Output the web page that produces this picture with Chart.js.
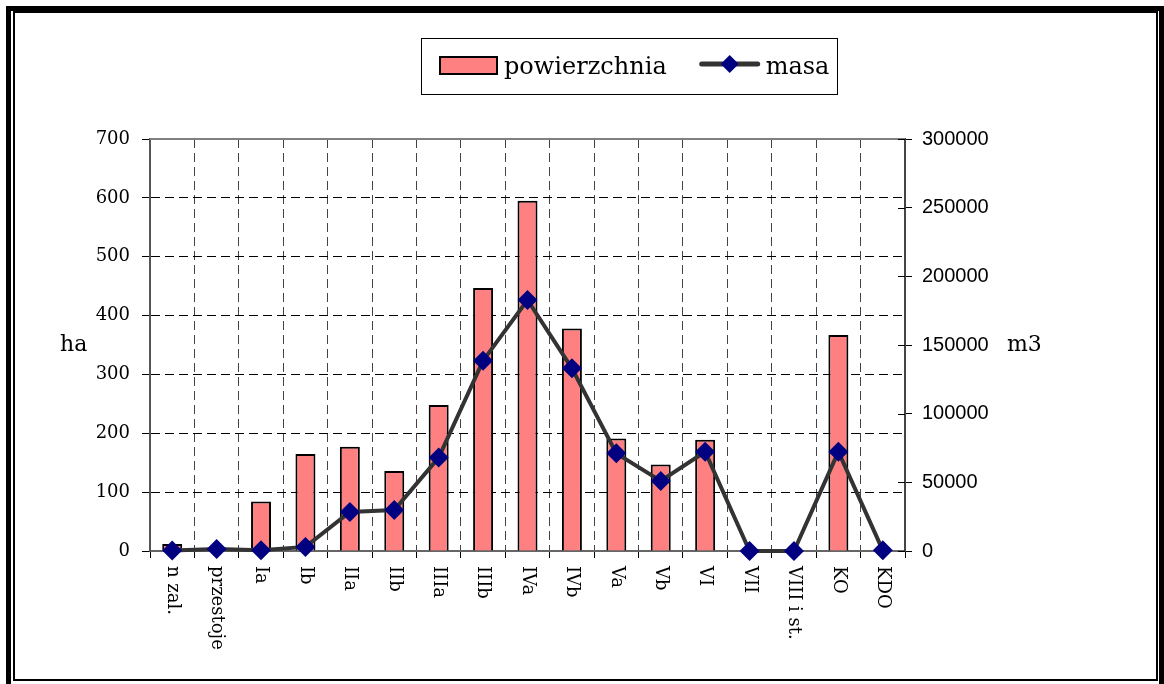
<!DOCTYPE html>
<html>
<head>
<meta charset="utf-8">
<title>powierzchnia i masa</title>
<script src="https://cdn.jsdelivr.net/npm/chart.js@4"></script>
<style>
  html, body { margin: 0; padding: 0; background: #fff; overflow: hidden; }
  #wrap { position: relative; width: 1164px; height: 684px; }
  #frameOuter { position: absolute; left: 6px; top: 6px; width: 1158px; height: 690px; border: 5px solid #000; box-sizing: border-box; pointer-events: none; }
  #frameInner { position: absolute; left: 13px; top: 11px; width: 1145px; height: 670px; border: 2px solid #000; box-sizing: border-box; pointer-events: none; }
</style>
</head>
<body>
<div id="wrap">
  <canvas id="myChart" width="1164" height="684"></canvas>
  <div id="frameOuter"></div>
  <div id="frameInner"></div>
</div>
<script>
// categories (bonitacja / klasy wieku)
var categories = ["n zal.", "przestoje", "Ia", "Ib", "IIa", "IIb", "IIIa", "IIIb", "IVa", "IVb", "Va", "Vb", "VI", "VII", "VIII i st.", "KO", "KDO"];
// powierzchnia [ha]
var powierzchnia = [12, 0, 84, 165, 177, 136, 248, 447, 595, 378, 191, 147, 189, 0, 0, 367, 0];
// masa [m3]
var masa = [300, 1500, 500, 3000, 28400, 29900, 68000, 138600, 182800, 133000, 71100, 51000, 72300, 0, 0, 72300, 500];
// axis ticks
var haMax = 700, haStep = 100;
var m3Max = 300000, m3Step = 50000;

var serif = '"DejaVu Serif", serif';

var extras = {
	id: 'extras',
	afterDraw: function(chart) {
		var ctx = chart.ctx, area = chart.chartArea;
		var xs = chart.scales.x, y1 = chart.scales.y1;
		ctx.save();

		// top border of the plot
		ctx.strokeStyle = '#808080';
		ctx.lineWidth = 2;
		ctx.beginPath();
		ctx.moveTo(area.left, area.top);
		ctx.lineTo(area.right, area.top);
		ctx.stroke();

		// right axis ticks cross the axis line
		ctx.strokeStyle = '#000';
		ctx.lineWidth = 1;
		y1.ticks.forEach(function(t) {
			var py = Math.round(y1.getPixelForValue(t.value)) + 0.5;
			ctx.beginPath();
			ctx.moveTo(area.right - 7, py);
			ctx.lineTo(area.right, py);
			ctx.stroke();
		});

		// category labels, turned clockwise
		ctx.fillStyle = '#000';
		ctx.font = '18px ' + serif;
		ctx.textAlign = 'left';
		ctx.textBaseline = 'middle';
		categories.forEach(function(c, i) {
			ctx.save();
			ctx.translate(xs.getPixelForValue(i), area.bottom + 15);
			ctx.rotate(Math.PI / 2);
			ctx.fillText(c, 0, 0);
			ctx.restore();
		});

		// axis titles
		var mid = (area.top + area.bottom) / 2;
		ctx.font = '22px ' + serif;
		ctx.textAlign = 'left';
		ctx.fillText('ha', 60, mid);
		ctx.fillText('m3', 1007, mid);

		// legend
		var bar = chart.data.datasets[1], line = chart.data.datasets[0];
		var boxL = 421, boxT = 38, boxR = 837, boxB = 94, cy = 65;
		ctx.lineWidth = 1;
		ctx.strokeStyle = '#000';
		ctx.strokeRect(boxL + 0.5, boxT + 0.5, boxR - boxL, boxB - boxT);

		var x = boxL + 19;
		ctx.fillStyle = bar.backgroundColor;
		ctx.fillRect(x, cy - 8, 57, 17);
		ctx.lineWidth = 2;
		ctx.strokeRect(x, cy - 8, 57, 17);
		x += 57 + 7;
		ctx.font = '24px ' + serif;
		ctx.fillStyle = '#000';
		ctx.textBaseline = 'alphabetic';
		ctx.fillText(bar.label, x, 74);
		x += ctx.measureText(bar.label).width + 33;

		ctx.strokeStyle = line.borderColor;
		ctx.lineWidth = 5;
		ctx.lineCap = 'round';
		ctx.beginPath();
		ctx.moveTo(x + 2, cy - 1);
		ctx.lineTo(x + 58, cy - 1);
		ctx.stroke();
		ctx.fillStyle = line.pointBackgroundColor;
		ctx.beginPath();
		ctx.moveTo(x + 30, cy - 10);
		ctx.lineTo(x + 39, cy - 1);
		ctx.lineTo(x + 30, cy + 8);
		ctx.lineTo(x + 21, cy - 1);
		ctx.closePath();
		ctx.fill();
		x += 66;
		ctx.fillStyle = '#000';
		ctx.fillText(line.label, x, 74);

		ctx.restore();
	}
};

var ctx = document.getElementById('myChart').getContext('2d');
var chart = new Chart(ctx, {
	data: {
		labels: categories,
		datasets: [{
			type: 'line',
			label: 'masa',
			data: masa,
			yAxisID: 'y1',
			order: 1,
			borderColor: '#333333',
			borderWidth: 4,
			tension: 0,
			clip: false,
			pointStyle: 'rectRot',
			pointRadius: 10,
			pointBorderWidth: 0,
			pointBackgroundColor: '#000080',
			pointBorderColor: '#000080'
		}, {
			type: 'bar',
			label: 'powierzchnia',
			data: powierzchnia,
			yAxisID: 'y',
			order: 2,
			backgroundColor: '#FF8080',
			borderColor: '#000000',
			borderWidth: 2,
			barPercentage: 0.45,
			categoryPercentage: 1
		}]
	},
	plugins: [extras],
	options: {
		responsive: false,
		animation: false,
		layout: { padding: { top: 139, left: 0, right: 0, bottom: 0 } },
		plugins: {
			legend: { display: false },
			tooltip: { enabled: false }
		},
		scales: {
			x: {
				type: 'category',
				offset: true,
				afterFit: function(s) { s.height = 684 - 551; },
				ticks: { display: false },
				grid: {
					offset: true,
					color: function(c) { return (c.index === undefined || c.index === 0) ? 'rgba(0,0,0,0)' : '#444'; },
					tickColor: '#000',
					tickLength: 7,
					lineWidth: 1
				},
				border: { display: true, color: '#666', width: 2, dash: [9, 5] }
			},
			y: {
				position: 'left',
				min: 0,
				max: haMax,
				afterFit: function(s) { s.width = 150; },
				ticks: {
					stepSize: haStep,
					color: '#000',
					padding: 12,
					font: { family: serif, size: 18 }
				},
				grid: {
					color: function(c) { return (c.tick && (c.tick.value === 0 || c.tick.value === haMax)) ? 'rgba(0,0,0,0)' : '#000'; },
					tickColor: '#000',
					tickLength: 8,
					lineWidth: 1
				},
				border: { display: true, color: '#555', width: 2, dash: [9, 5] }
			},
			y1: {
				position: 'right',
				min: 0,
				max: m3Max,
				afterFit: function(s) { s.width = 1164 - 905; },
				ticks: {
					stepSize: m3Step,
					color: '#000',
					padding: 10,
					font: { family: '"Liberation Sans", Arial, sans-serif', size: 20 },
					callback: function(v) { return String(v); }
				},
				grid: {
					drawOnChartArea: false,
					tickColor: '#000',
					tickLength: 7
				},
				border: { display: true, color: '#444', width: 2 }
			}
		}
	}
});
</script>
</body>
</html>
